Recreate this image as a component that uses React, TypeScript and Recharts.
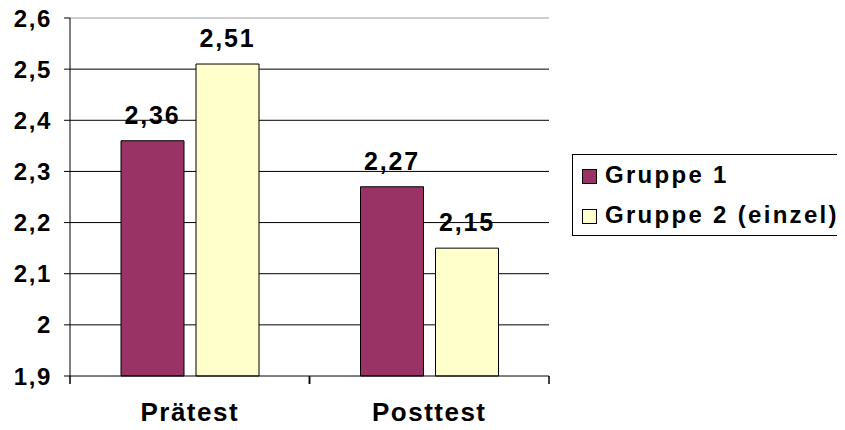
import { BarChart, Bar, XAxis, YAxis, CartesianGrid, ReferenceLine, LabelList, Legend } from 'recharts';

const categories = ['Prätest', 'Posttest'];
const gruppe1 = [2.36, 2.27];
const gruppe2 = [2.51, 2.15];
const yTicks = [1.9, 2.0, 2.1, 2.2, 2.3, 2.4, 2.5, 2.6];
const gridValues = [2.0, 2.1, 2.2, 2.3, 2.4, 2.5];

const series = [
  { key: 'g1', name: 'Gruppe 1', color: '#993366' },
  { key: 'g2', name: 'Gruppe 2 (einzel)', color: '#FFFFCC' },
];

const data = categories.map((name, i) => ({ name, g1: gruppe1[i], g2: gruppe2[i] }));

const FONT = '"Liberation Sans", Arial, sans-serif';
const boldText = (size: number, spacing: number) => ({
  fontFamily: FONT,
  fontSize: size,
  fontWeight: 700,
  fill: '#000',
  style: { letterSpacing: spacing },
});

const X_TICK_SIZE = 6;
const X_TICK_MARGIN = 21;

// German decimal comma: 2.36 -> "2,36", 2 -> "2"
const comma = (v: any) => String(Math.round(Number(v) * 100) / 100).replace('.', ',');

// category label plus the small marks at both edges of the category band
function CategoryTick(props: any) {
  const { x, y, payload } = props;
  const axisY = y - X_TICK_SIZE - X_TICK_MARGIN;
  const half = payload?.offset ?? 0;
  return (
    <g>
      {half > 0 && (
        <>
          <line x1={x - half} x2={x - half} y1={axisY} y2={axisY + 8} stroke="#000" strokeWidth={1.5} />
          <line x1={x + half} x2={x + half} y1={axisY} y2={axisY + 8} stroke="#000" strokeWidth={1.5} />
        </>
      )}
      <text x={x} y={y} dy="0.71em" textAnchor="middle" {...boldText(26, 1.5)}>
        {payload.value}
      </text>
    </g>
  );
}

function GroupLegend() {
  return (
    <div
      style={{
        border: '1.5px solid #000',
        width: 300,
        boxSizing: 'border-box',
        background: '#fff',
        fontFamily: FONT,
        fontSize: 24,
        fontWeight: 700,
        letterSpacing: 2.3,
        color: '#000',
      }}
    >
      {series.map((s) => (
        <div key={s.key} style={{ display: 'flex', alignItems: 'center', height: 40, paddingLeft: 9 }}>
          <span
            style={{
              display: 'inline-block',
              width: 13,
              height: 13,
              background: s.color,
              border: '1px solid #000',
              marginRight: 8,
              marginTop: 3,
            }}
          />
          <span>{s.name}</span>
        </div>
      ))}
    </div>
  );
}

export default function App() {
  return (
    <div style={{ width: 845, height: 430, overflow: 'hidden', position: 'relative', margin: -8, background: '#fff' }}>
      <BarChart
        width={845}
        height={430}
        data={data}
        margin={{ top: 18, right: 296, left: 0, bottom: 0 }}
        barGap={12}
        barSize={63}
      >
        <CartesianGrid vertical={false} stroke="#000" horizontalValues={gridValues} />
        <ReferenceLine y={2.6} stroke="#bdbdbd" strokeWidth={1.5} />
        <XAxis
          dataKey="name"
          height={54}
          stroke="#000"
          tickLine={false}
          tickSize={X_TICK_SIZE}
          tickMargin={X_TICK_MARGIN}
          tick={<CategoryTick />}
        />
        <YAxis
          width={70}
          domain={[1.9, 2.6]}
          ticks={yTicks}
          interval={0}
          stroke="#000"
          tickSize={6}
          tickMargin={12}
          tickFormatter={comma}
          tick={boldText(24, 1.6)}
        />
        <Legend
          layout="horizontal"
          verticalAlign="middle"
          align="center"
          wrapperStyle={{ left: 572, top: 154, width: 300 }}
          content={() => <GroupLegend />}
        />
        {series.map((s) => (
          <Bar key={s.key} dataKey={s.key} name={s.name} fill={s.color} stroke="#000" strokeWidth={1} isAnimationActive={false}>
            <LabelList dataKey={s.key} position="top" offset={17} formatter={comma} {...boldText(25, 1.8)} />
          </Bar>
        ))}
      </BarChart>
    </div>
  );
}
